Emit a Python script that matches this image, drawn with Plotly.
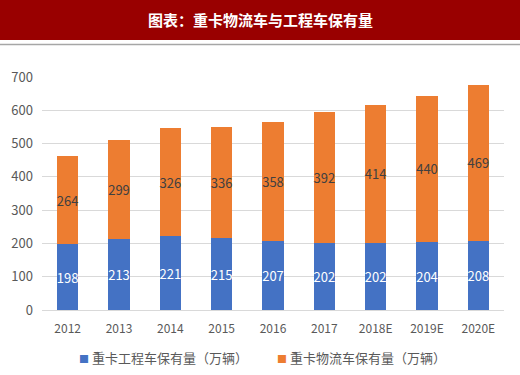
import plotly.graph_objects as go

categories = ["2012", "2013", "2014", "2015", "2016", "2017", "2018E", "2019E", "2020E"]
engineering = [198, 213, 221, 215, 207, 202, 202, 204, 208]
logistics = [264, 299, 326, 336, 358, 392, 414, 440, 469]
name_eng = "重卡工程车保有量（万辆）"
name_log = "重卡物流车保有量（万辆）"
title_text = "图表：重卡物流车与工程车保有量"
col_eng = "#4472C4"
col_log = "#ED7D31"

FONT = "Microsoft YaHei, Noto Sans CJK SC, sans-serif"
W, H = 520, 375
ml, mr, mt, mb = 42, 16, 77, 65
pw = W - ml - mr
ph = H - mt - mb

def px_to_paper_x(p):
    return (p - ml) / pw

def px_to_paper_y(p):
    return (H - mb - p) / ph

fig = go.Figure()
fig.add_trace(go.Bar(
    x=categories, y=engineering, name=name_eng,
    marker=dict(color=col_eng, line=dict(width=0)),
    text=[str(v) for v in engineering], textposition="inside",
    insidetextanchor="middle", textangle=0, constraintext="none",
    textfont=dict(color="#FFFFFF", size=13, family=FONT),
    hoverinfo="none",
))
fig.add_trace(go.Bar(
    x=categories, y=logistics, name=name_log,
    marker=dict(color=col_log, line=dict(width=0)),
    text=[str(v) for v in logistics], textposition="inside",
    insidetextanchor="middle", textangle=0, constraintext="none",
    textfont=dict(color="#404040", size=13, family=FONT),
    hoverinfo="none",
))

shapes = [
    dict(type="rect", xref="paper", yref="paper",
         x0=px_to_paper_x(-2), x1=px_to_paper_x(W + 2),
         y0=px_to_paper_y(40), y1=px_to_paper_y(0),
         fillcolor="#990000", line=dict(width=0), layer="above"),
    dict(type="line", xref="paper", yref="paper",
         x0=px_to_paper_x(-2), x1=px_to_paper_x(W + 2),
         y0=px_to_paper_y(44.5), y1=px_to_paper_y(44.5),
         line=dict(color="#A6A6A6", width=1.5)),
]

legend_ann = []
for xpx, name, col in [(77, name_eng, col_eng), (275, name_log, col_log)]:
    legend_ann.append(dict(
        text="<span style='color:%s;font-size:10px'>■</span> %s" % (col, name),
        xref="paper", yref="paper", x=px_to_paper_x(xpx), y=px_to_paper_y(357),
        xanchor="left", yanchor="middle", showarrow=False,
        font=dict(size=13, color="#595959", family=FONT)))

fig.update_layout(
    width=W, height=H,
    margin=dict(l=ml, r=mr, t=mt, b=mb, pad=0),
    paper_bgcolor="white", plot_bgcolor="white",
    barmode="stack", bargap=0.59,
    font=dict(family=FONT, color="#595959", size=12),
    showlegend=False,
    xaxis=dict(type="category", showgrid=False, showline=True,
               linecolor="#D9D9D9", linewidth=1, ticks="",
               tickfont=dict(size=12, color="#595959"), ticklabelstandoff=8),
    yaxis=dict(range=[0, 700], dtick=100, showgrid=True, gridcolor="#D9D9D9",
               gridwidth=1, zeroline=False, showline=False, ticks="",
               tickfont=dict(size=13, color="#595959"), ticklabelstandoff=8),
    shapes=shapes,
    annotations=[dict(text="<b>" + title_text + "</b>", xref="paper", yref="paper",
                      x=px_to_paper_x(260), y=px_to_paper_y(20),
                      xanchor="center", yanchor="middle", showarrow=False,
                      font=dict(color="white", size=15, family=FONT))] + legend_ann,
)

fig.write_html("out.html", config={"displayModeBar": False},
               post_script="document.body.style.margin='0';document.body.style.overflow='hidden';")
